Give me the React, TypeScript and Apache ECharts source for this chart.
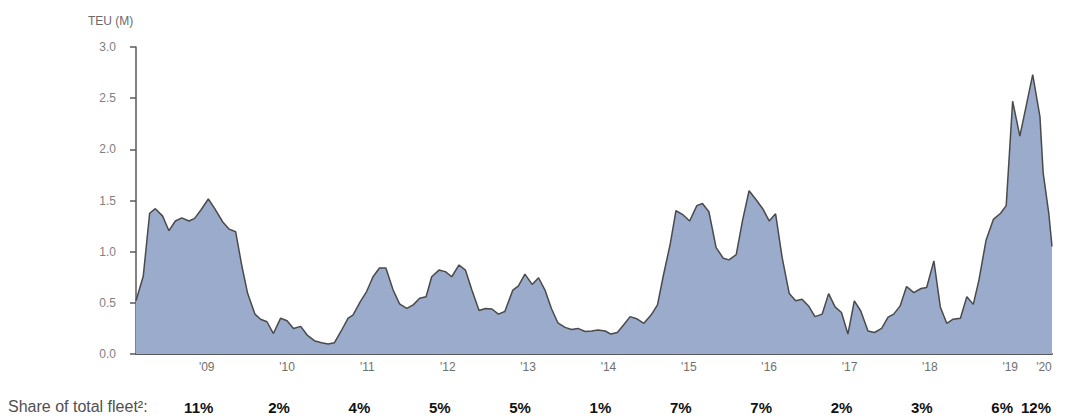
import React, { useEffect, useRef } from "react";
import * as echarts from "echarts";

// decimal year of each point
const years: number[] = [
  2008.12, 2008.21, 2008.29, 2008.36, 2008.45, 2008.53, 2008.61, 2008.69, 2008.78, 2008.85,
  2008.93, 2009.02, 2009.10, 2009.20, 2009.28, 2009.36, 2009.44, 2009.51, 2009.60, 2009.67,
  2009.75, 2009.83, 2009.92, 2010.00, 2010.08, 2010.17, 2010.25, 2010.34, 2010.43, 2010.51,
  2010.59, 2010.67, 2010.76, 2010.82, 2010.91, 2010.99, 2011.07, 2011.15, 2011.23, 2011.32,
  2011.40, 2011.49, 2011.57, 2011.65, 2011.73, 2011.80, 2011.89, 2011.97, 2012.05, 2012.14,
  2012.22, 2012.30, 2012.39, 2012.47, 2012.55, 2012.63, 2012.71, 2012.81, 2012.88, 2012.96,
  2013.05, 2013.13, 2013.21, 2013.29, 2013.37, 2013.46, 2013.54, 2013.62, 2013.71, 2013.79,
  2013.87, 2013.96, 2014.03, 2014.11, 2014.20, 2014.27, 2014.35, 2014.44, 2014.53, 2014.61,
  2014.68, 2014.77, 2014.84, 2014.92, 2015.01, 2015.10, 2015.17, 2015.25, 2015.34, 2015.43,
  2015.50, 2015.59, 2015.67, 2015.75, 2015.84, 2015.92, 2016.00, 2016.08, 2016.16, 2016.25,
  2016.33, 2016.41, 2016.49, 2016.57, 2016.66, 2016.74, 2016.82, 2016.90, 2016.98, 2017.06,
  2017.14, 2017.23, 2017.31, 2017.40, 2017.48, 2017.55, 2017.63, 2017.71, 2017.80, 2017.89,
  2017.96, 2018.05, 2018.13, 2018.21, 2018.29, 2018.38, 2018.46, 2018.54, 2018.61, 2018.70,
  2018.79, 2018.88, 2018.95, 2019.03, 2019.12, 2019.20, 2019.28, 2019.37, 2019.41, 2019.48,
  2019.52,
];

// idle fleet, TEU (M)
const teu: number[] = [
  0.52, 0.76, 1.375, 1.42, 1.35, 1.205, 1.30, 1.33, 1.30, 1.325,
  1.41, 1.515, 1.42, 1.29, 1.22, 1.195, 0.85, 0.59, 0.39, 0.34,
  0.315, 0.20, 0.35, 0.325, 0.25, 0.27, 0.185, 0.13, 0.11, 0.098,
  0.11, 0.22, 0.35, 0.38, 0.51, 0.61, 0.755, 0.84, 0.84, 0.625,
  0.49, 0.445, 0.48, 0.545, 0.56, 0.755, 0.82, 0.805, 0.755, 0.87,
  0.82, 0.625, 0.425, 0.445, 0.44, 0.39, 0.415, 0.625, 0.665, 0.78,
  0.68, 0.745, 0.625, 0.445, 0.305, 0.26, 0.24, 0.25, 0.22, 0.225,
  0.235, 0.225, 0.195, 0.21, 0.295, 0.365, 0.345, 0.30, 0.38, 0.48,
  0.755, 1.08, 1.40, 1.365, 1.30, 1.45, 1.47, 1.39, 1.04, 0.935,
  0.92, 0.97, 1.31, 1.595, 1.505, 1.42, 1.30, 1.37, 0.95, 0.59,
  0.52, 0.535, 0.47, 0.365, 0.39, 0.59, 0.46, 0.405, 0.195, 0.52,
  0.42, 0.225, 0.21, 0.25, 0.36, 0.39, 0.47, 0.66, 0.60, 0.64,
  0.65, 0.91, 0.46, 0.30, 0.34, 0.35, 0.56, 0.485, 0.72, 1.115,
  1.315, 1.375, 1.45, 2.47, 2.13, 2.43, 2.73, 2.32, 1.77, 1.375,
  1.05,
];

const yearTickValues: number[] = [2009, 2010, 2011, 2012, 2013, 2014, 2015, 2016, 2017, 2018, 2019, 2019.42];
const yearTickLabels: string[] = ["'09", "'10", "'11", "'12", "'13", "'14", "'15", "'16", "'17", "'18", "'19", "'20"];
const shareLabels: string[] = ["11%", "2%", "4%", "5%", "5%", "1%", "7%", "7%", "2%", "3%", "6%", "12%"];

const X_MIN = 2008.12;
const X_MAX = 2019.52;

export default function App() {
  const ref = useRef<HTMLDivElement>(null);
  useEffect(() => {
    if (!ref.current) return;
    const chart = echarts.init(ref.current, undefined, { renderer: "svg" });
    const data = years.map((y, i) => [y, teu[i]]);
    const idx = (v: number) => yearTickValues.findIndex((t) => Math.abs(t - v) < 0.005);
    const font = "Liberation Sans, Arial, sans-serif";
    chart.setOption({
      animation: false,
      backgroundColor: "#ffffff",
      textStyle: { fontFamily: font },
      grid: { left: 136, right: 18, top: 47, bottom: 62, containLabel: false },
      xAxis: [
        {
          type: "value",
          min: X_MIN,
          max: X_MAX,
          axisLine: { show: true, lineStyle: { color: "#5a5a5a", width: 2 } },
          axisTick: { show: false },
          splitLine: { show: false },
          axisLabel: {
            customValues: yearTickValues,
            showMinLabel: true,
            showMaxLabel: true,
            hideOverlap: false,
            color: "#707070",
            fontSize: 12,
            margin: 7,
            formatter: (v: number) => {
              const i = idx(v);
              return i >= 0 ? yearTickLabels[i] : "";
            },
          },
        },
        {
          type: "value",
          min: X_MIN,
          max: X_MAX,
          position: "bottom",
          offset: 40,
          axisLine: { show: false },
          axisTick: { show: false },
          splitLine: { show: false },
          axisLabel: {
            customValues: yearTickValues,
            showMinLabel: true,
            showMaxLabel: true,
            hideOverlap: false,
            color: "#111111",
            fontSize: 15,
            fontWeight: "bold",
            margin: 6,
            padding: [0, 16, 0, 0],
            formatter: (v: number) => {
              const i = idx(v);
              return i >= 0 ? shareLabels[i] : "";
            },
          },
        },
      ],
      yAxis: {
        type: "value",
        min: 0,
        max: 3,
        interval: 0.5,
        axisLine: { show: true, lineStyle: { color: "#5a5a5a", width: 1.5 } },
        axisTick: { show: true, inside: false, length: 6, lineStyle: { color: "#5a5a5a", width: 1.5 } },
        splitLine: { show: false },
        axisLabel: {
          color: "#808080",
          fontSize: 12,
          margin: 20,
          formatter: (v: number) => v.toFixed(1),
        },
      },
      series: [
        {
          type: "line",
          data,
          xAxisIndex: 0,
          symbol: "none",
          smooth: false,
          lineStyle: { color: "#4a4a4a", width: 1.5 },
          areaStyle: { color: "#9aabcb", opacity: 1 },
        },
      ],
      graphic: [
        {
          type: "text",
          left: 88,
          top: 15,
          style: { text: "TEU (M)", fill: "#6a6a6a", fontSize: 12, fontFamily: font },
        },
        {
          type: "text",
          left: 8,
          top: 398,
          style: { text: "Share of total fleet²:", fill: "#505050", fontSize: 16, fontFamily: font },
        },
      ],
    });
    return () => chart.dispose();
  }, []);
  return (
    <div
      ref={ref}
      style={{ position: "fixed", left: 0, top: 0, width: 1070, height: 416 }}
    />
  );
}
